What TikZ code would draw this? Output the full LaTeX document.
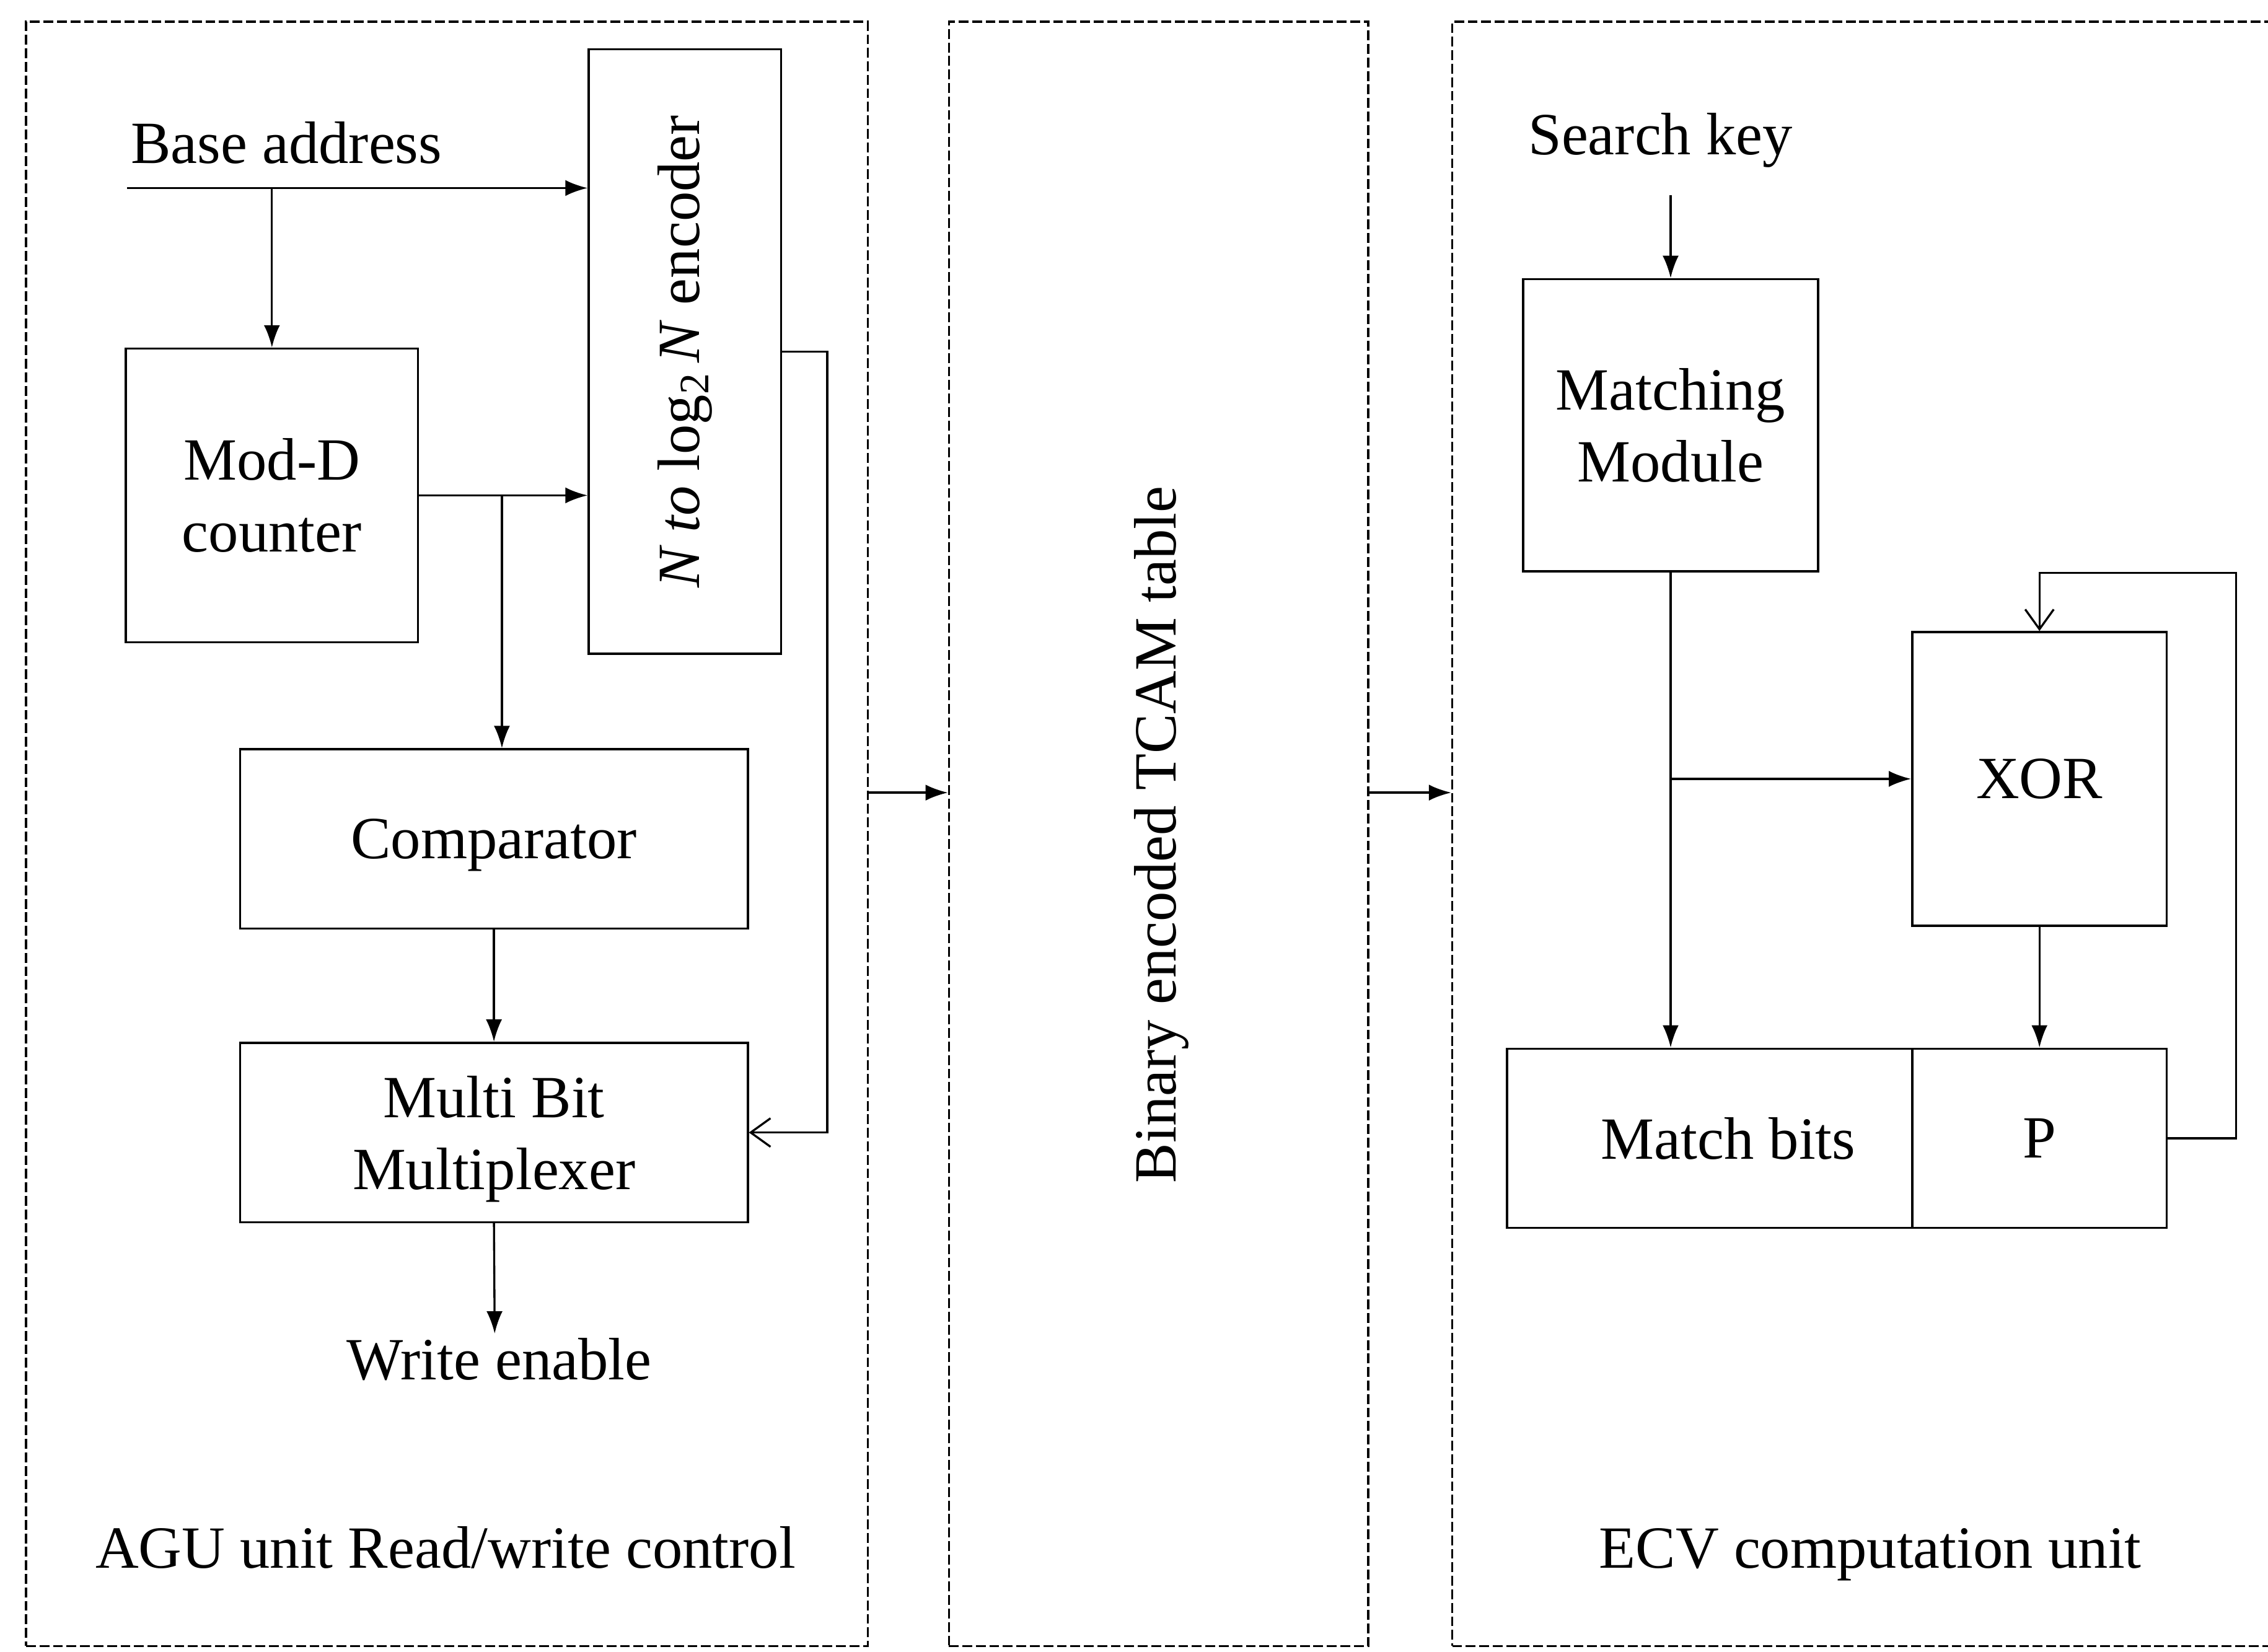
\documentclass[tikz,border=0pt]{standalone}
\usepackage{fontspec}
\setmainfont{Liberation Serif}
\usetikzlibrary{arrows.meta,calc}
\newcommand{\uu}{0.02334cm}
\begin{document}
\begin{tikzpicture}[x=0.02334cm,y=-0.02334cm,
  font=\fontsize{27.5}{33}\selectfont,
  blk/.style={draw, line width=1pt, inner sep=0pt, align=center, text depth=0pt},
  region/.style={draw, line width=0.95pt, dash pattern=on 4.5pt off 1.7pt, inner sep=0pt},
  arr/.style={line width=0.95pt, -{Latex[length=3.6mm,width=2.6mm]}},
  oarr/.style={line width=0.95pt, -{Straight Barb[length=3.2mm,width=4.6mm]}},
  lbl/.style={inner sep=0pt, anchor=base}]
\useasboundingbox (0,0) rectangle (1568,1142);

% regions
\node[region, minimum width={582*\uu}, minimum height={1123*\uu}] (agu) at (309,576.5) {};
\node[region, minimum width={290*\uu}, minimum height={1123*\uu}] (tcam) at (801,576.5) {};
\node[region, minimum width={600*\uu}, minimum height={1123*\uu}] (ecv) at (1304,576.5) {};

% AGU blocks
\node[blk, minimum width={133*\uu}, minimum height={418*\uu}] (enc) at (473.5,243)
  {\rotatebox{90}{\textit{N to} log\textsubscript{2}\,\textit{N} encoder}};
\node[blk, minimum width={202*\uu}, minimum height={203*\uu}] (mod) at (188,342.5) {Mod-D\\counter};
\node[blk, minimum width={351*\uu}, minimum height={124*\uu}] (cmp) at (341.5,580) {Comparator};
\node[blk, minimum width={351*\uu}, minimum height={124*\uu}] (mux) at (341.5,783) {Multi Bit\\Multiplexer};

\node[lbl] (base) at (198,113) {Base address};
\node[lbl] (we) at (345,954) {Write enable};
\node[lbl] (agulbl) at (308,1084) {AGU unit Read/write control};

\coordinate (bs) at (88,130);
\coordinate (br1) at (347,342.5);
\coordinate (weend) at (342,922);
\coordinate (encout) at (572,243);

\draw[arr] (bs) -- (bs -| enc.west);
\draw[arr] (bs -| mod.north) -- (mod.north);
\draw[arr] (mod.east) -- (mod.east -| enc.west);
\draw[arr] (br1) -- (br1 |- cmp.north);
\draw[arr] (cmp.south) -- (mux.north);
\draw[oarr] (enc.east) -- (encout) |- (mux.east);
\draw[arr] (mux.south) -- (weend);

% middle
\node[rotate=90, inner sep=0pt] (tcamlbl) at (803,577) {Binary encoded TCAM table};
\draw[arr] (agu.east |- 0,548) -- (tcam.west |- 0,548);
\draw[arr] (tcam.east |- 0,548) -- (ecv.west |- 0,548);

% ECV blocks
\node[blk, minimum width={204*\uu}, minimum height={202*\uu}] (mm) at (1155,294) {Matching\\Module};
\node[blk, minimum width={176*\uu}, minimum height={203*\uu}] (xor) at (1410,538.5) {XOR};
\node[blk, minimum width={280*\uu}, minimum height={124*\uu}] (mb) at (1182,787) {\hspace*{0.6cm}Match bits};
\node[blk, minimum width={176*\uu}, minimum height={124*\uu}] (p) at (1410,787) {P};

\node[lbl] (sk) at (1148,107) {Search key};
\node[lbl] (ecvlbl) at (1293,1084) {ECV computation unit};

\coordinate (skend) at (1155,135);
\coordinate (fb) at (1546,396);

\draw[arr] (skend) -- (mm.north);
\draw[arr] (mm.south) -- (mm.south |- mb.north);
\draw[arr] (mm.south |- xor.west) -- (xor.west);
\draw[arr] (xor.south) -- (p.north);
\draw[oarr] (p.east) -- (p.east -| fb) -- (fb) -- (fb -| xor.north) -- (xor.north);
\end{tikzpicture}
\end{document}
